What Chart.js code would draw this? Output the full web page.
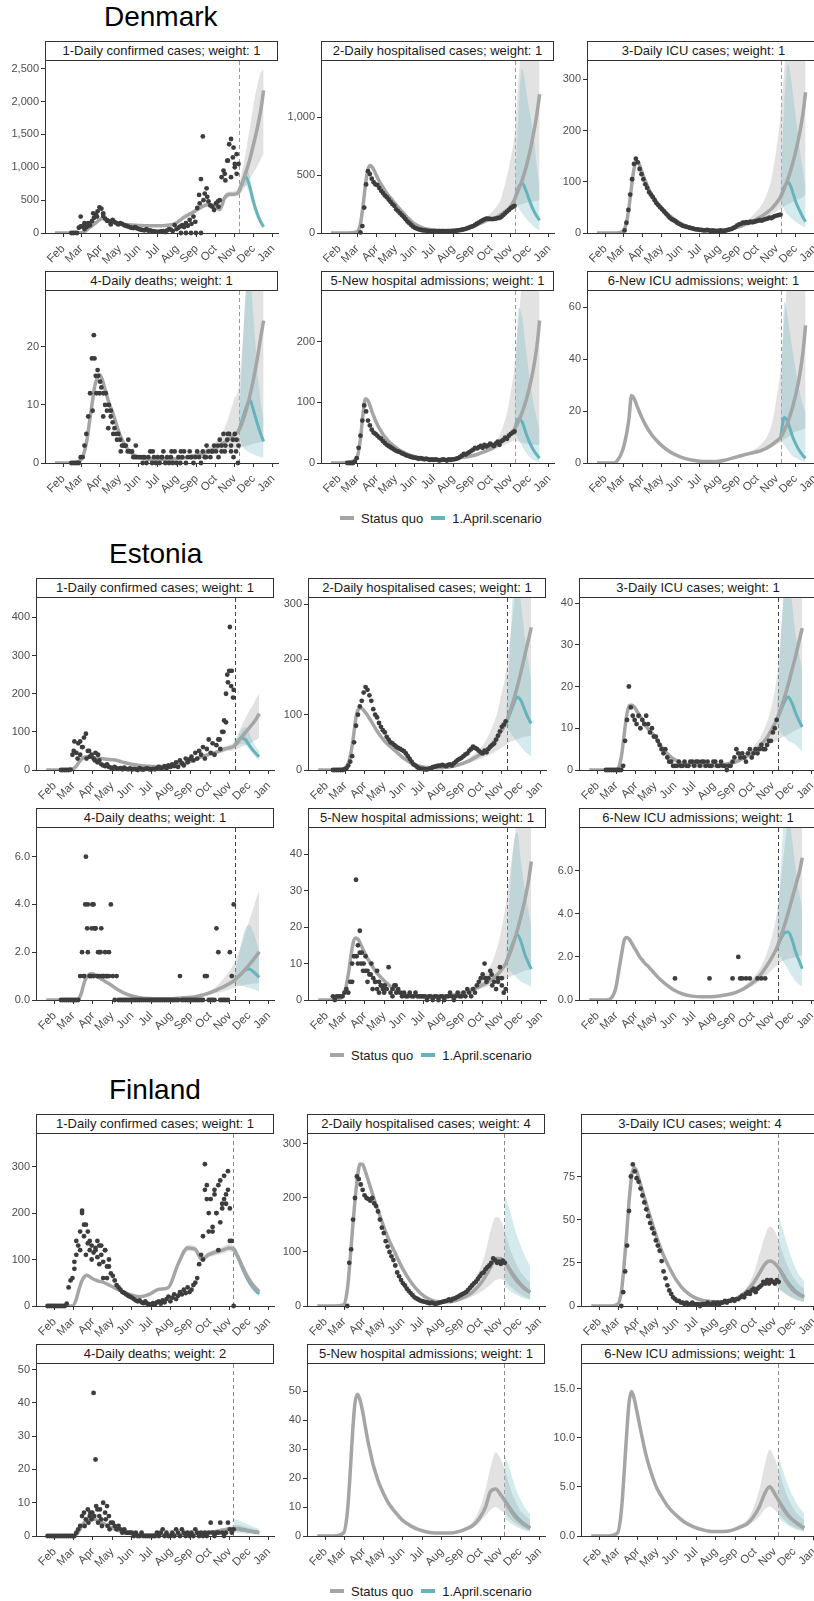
<!DOCTYPE html>
<html>
<head>
<meta charset="utf-8">
<script src="https://cdn.jsdelivr.net/npm/chart.js@4.4.1/dist/chart.umd.min.js"></script>
<style>
  body { margin: 0; width: 814px; height: 1601px; overflow: hidden; background: #fff; position: relative;
         font-family: 'Liberation Sans', Arial, sans-serif; }
  .country { position: absolute; font-size: 28px; line-height: 28px; color: #000; }
  .strip { position: absolute; box-sizing: border-box; height: 20px; border: 1px solid #333; background: #fff;
           font-size: 13px; line-height: 18px; text-align: center; color: #1a1a1a; white-space: nowrap; overflow: hidden; }
  .legend { position: absolute; display: flex; align-items: center; height: 16px; font-size: 13px; color: #1a1a1a; }
  .legend i { display: inline-block; width: 14px; height: 4px; margin-right: 7px; }
  .legend span { margin-right: 8px; }
  canvas { position: absolute; }
</style>
</head>
<body>
<script>
// x axis: day of year 2020
const monthDays = [32, 61, 92, 122, 153, 183, 214, 245, 275, 306, 336, 367];
const monthLabels = ['Feb', 'Mar', 'Apr', 'May', 'Jun', 'Jul', 'Aug', 'Sep', 'Oct', 'Nov', 'Dec', 'Jan'];

const lineDays = [19, 45, 60, 66, 70, 74, 78, 82, 86, 90, 94, 98, 102, 106, 110, 116, 122, 130, 140, 152,
  165, 180, 195, 210, 225, 240, 252, 262, 272, 282, 290, 298, 305, 312, 318, 324, 330, 336, 342, 348, 352];
const bandDays = [225, 240, 252, 262, 272, 282, 290, 298, 305, 312, 318, 324, 330, 336, 342, 348, 352];
const scenDays = [312, 318, 324, 330, 336, 342, 348, 352];
const obsDays = [21, 24, 27, 30, 33, 36, 39, 42, 45, 48, 51,
  54, 57, 60, 63, 66, 69, 72, 75, 78, 81, 84, 87, 90,
  93, 96, 99, 102, 105, 108, 111, 114, 117, 120,
  123, 126, 129, 132, 135, 138, 141, 144, 147, 150,
  153, 156, 159, 162, 165, 168, 171, 174, 177, 180,
  183, 186, 189, 192, 195, 198, 201, 204, 207, 210, 213,
  216, 219, 222, 225, 228, 231, 234, 237, 240, 243,
  246, 249, 252, 255, 258, 261, 264, 267, 270, 273,
  276, 279, 282, 285, 288, 291, 294, 297, 300, 303,
  306, 309, 312];

const panelNames = ['1-Daily confirmed cases', '2-Daily hospitalised cases', '3-Daily ICU cases',
  '4-Daily deaths', '5-New hospital admissions', '6-New ICU admissions'];

// ---------------- Denmark ----------------
const dkWeights = [1, 1, 1, 1, 1, 1];
const dkYMax = [2617, 1488, 336, 29.6, 283.6, 66.2];
const dkYTicks = [[0, 500, 1000, 1500, 2000, 2500], [0, 500, 1000], [0, 100, 200, 300], [0, 10, 20], [0, 100, 200], [0, 20, 40, 60]];

const dkCases = [null, null, null, null, null, null, null, null, 0, 0, 2,
  0, 80, 250, 100, 60, 90, 150, 120, 180, 230, 280, 330, 390,
  370, 300, 220, 190, 180, 160, 200, 170, 150, 130,
  150, 140, 120, 110, 100, 90, 80, 75, 90, 70,
  60, 50, 45, 40, 60, 35, 40, 30, 25, 20,
  15, 20, 25, 30, 15, 40, 60, 50, 30, 120, 60,
  80, 100, 120, 90, 150, 110, 200, 140, 250, 170,
  380, 580, 820, 1470, 600, 680, 480, 420, 400, 350,
  450, 480, 500, 850, 950, 800, 1100, 1350, 1430, 1150,
  1000, 1200, 1050];
const dkCasesExtra = [[60, 100], [66, 150], [72, 110], [80, 300], [86, 250], [96, 260], [102, 190], [108, 130],
  [250, 450], [256, 500], [262, 550], [280, 400], [290, 900], [295, 1100], [300, 850], [304, 1300], [306, 1050],
  [309, 900], [220, 0], [228, 0], [236, 0], [244, 0], [252, 0]];
const dkCasesMid = [0, 0, 5, 20, 50, 80, 110, 140, 170, 200,
  220, 215, 200, 185, 170, 155, 140, 130, 120, 115,
  110, 110, 115, 140, 240, 320, 390, 430, 420, 360,
  540, 590, 590, 620, 760, 930, 1120, 1350, 1600, 1900,
  2170];
const dkCasesLo = [220, 290, 360, 400, 390, 320, 490, 550, 555, 570, 640, 720, 820, 920, 1020, 1130, 1210];
const dkCasesHi = [260, 350, 420, 460, 450, 400, 590, 630, 640, 700, 950, 1250, 1600, 1950, 2250, 2450, 2490];
const dkCasesScMid = [620, 770, 850, 700, 470, 290, 160, 95];
const dkCasesScLo = [600, 690, 720, 560, 360, 210, 110, 65];
const dkCasesScHi = [640, 870, 1000, 850, 580, 370, 210, 130];

const dkHosp = [null, null, null, null, null, null, null, null, null, null, null,
  null, null, null, null, 5, 60, 220, 420, 535, 510, 470, 440, 420,
  415, 390, 365, 345, 325, 310, 290, 270, 250, 235,
  205, 190, 172, 155, 140, 120, 100, 85, 70, 55,
  45, 38, 32, 28, 24, 22, 20, 18, 17, 16,
  15, 15, 14, 15, 16, 15, 14, 15, 16, 17, 18,
  18, 20, 22, 25, 28, 32, 36, 42, 48, 55,
  60, 70, 80, 90, 100, 110, 118, 124, 125, 122,
  120, 122, 125, 128, 130, 140, 155, 170, 185, 200,
  215, 225, 235];
const dkHospMid = [0, 0, 10, 80, 230, 420, 550, 585, 560, 515,
  470, 430, 395, 360, 330, 290, 250, 200, 140, 80,
  45, 28, 22, 22, 28, 45, 70, 95, 115, 130,
  160, 190, 225, 290, 370, 455, 560, 690, 850, 1040,
  1200];
const dkHospLo = [25, 40, 62, 85, 103, 118, 140, 165, 190, 230, 240, 250, 260, 270, 275, 280, 285];
const dkHospHi = [32, 52, 85, 120, 160, 220, 290, 450, 620, 850, 1300, 1700, 2000, 2200, 2400, 2500, 2600];
const dkHospScMid = [290, 390, 432, 370, 280, 200, 140, 110];
const dkHospScLo = [280, 220, 170, 130, 90, 60, 35, 25];
const dkHospScHi = [300, 1000, 1420, 1250, 1050, 860, 560, 400];

const dkIcu = [null, null, null, null, null, null, null, null, null, null, null,
  null, null, null, 5, 20, 45, 75, 105, 135, 145, 138, 125, 115,
  105, 95, 88, 80, 75, 70, 64, 58, 54, 50,
  46, 42, 38, 34, 30, 27, 25, 23, 20, 18,
  16, 14, 13, 12, 11, 10, 9, 8, 7, 7,
  6, 6, 5, 5, 6, 5, 4, 5, 4, 4, 4,
  5, 4, 4, 5, 6, 7, 8, 10, 12, 15,
  17, 18, 20, 20, 21, 20, 22, 21, 22, 23,
  24, 25, 24, 26, 27, 28, 30, 29, 31, 33,
  34, 35, 36];
const dkIcuMid = [0, 0, 3, 20, 50, 90, 125, 140, 135, 122,
  108, 96, 85, 76, 68, 58, 49, 39, 29, 19,
  12, 7, 5, 4.5, 6, 10, 15, 20, 26, 33,
  40, 48, 58, 70, 87, 106, 130, 158, 192, 235,
  275];
const dkIcuLo = [5, 8, 12, 16, 21, 26, 31, 36, 42, 47, 52, 56, 60, 63, 67, 71, 75];
const dkIcuHi = [7, 12, 20, 28, 40, 55, 75, 110, 160, 230, 320, 400, 460, 500, 540, 570, 600];
const dkIcuScMid = [70, 90, 100, 85, 62, 45, 30, 22];
const dkIcuScLo = [65, 45, 35, 28, 22, 17, 12, 10];
const dkIcuScHi = [75, 250, 330, 290, 230, 170, 120, 90];

const dkDeaths = [null, null, null, null, null, null, null, null, 0, 0, 0,
  0, 0, 1, 1, 3, 5, 8, 12, 18, 22, 15, 16, 12,
  13, 12, 10, 9, 10, 8, 7, 6, 5, 5,
  4, 3, 3, 3, 2, 2, 2, 1, 1, 1,
  1, 1, 0, 1, 0, 1, 2, 0, 1, 0,
  1, 0, 1, 2, 0, 1, 0, 1, 0, 2, 0,
  1, 0, 1, 2, 0, 1, 2, 1, 0, 1,
  2, 1, 0, 2, 1, 3, 2, 1, 2, 3,
  2, 3, 4, 2, 5, 3, 4, 5, 3, 4,
  5, 4, 3];
const dkDeathsExtra = [[79, 9], [82, 18], [85, 12], [88, 15], [91, 14], [96, 8], [100, 12], [104, 6], [108, 9],
  [112, 5], [118, 4], [124, 2], [130, 3], [136, 4], [142, 2], [148, 3], [160, 1], [175, 2], [190, 1], [205, 2],
  [220, 2], [235, 1], [260, 1], [270, 2], [280, 1], [285, 3], [290, 2], [295, 5], [300, 2], [304, 1], [308, 2], [311, 0]];
const dkDeathsMid = [0, 0, 0.5, 2, 4, 7, 10, 13, 14.5, 15.2,
  14.5, 13, 11.5, 10, 9, 7, 5, 3.2, 1.8, 1,
  0.7, 0.6, 0.6, 0.7, 0.9, 1.2, 1.5, 1.9, 2.4, 3,
  3.6, 4.2, 4.8, 5.5, 7, 9, 11.5, 14.5, 18, 22,
  24.5];
const dkDeathsLo = [0.7, 0.9, 1.1, 1.4, 1.7, 2, 2.2, 2.4, 2.5, 2.5, 2.7, 2.9, 3.1, 3.3, 3.5, 3.6, 3.7];
const dkDeathsHi = [1.1, 1.5, 2, 2.6, 3.3, 4.5, 6, 8.5, 11, 13, 20, 30, 40, 50, 60, 70, 75];
const dkDeathsScMid = [5.5, 7.5, 9.5, 10.9, 9, 6.8, 4.8, 3.7];
const dkDeathsScLo = [5, 3, 2.2, 1.8, 1.5, 1.2, 1, 0.9];
const dkDeathsScHi = [6, 18, 30, 32, 25, 16, 10, 7.5];

const dkAdm = [null, null, null, null, null, null, null, null, 0, 0, 0,
  0, 2, 8, 25, 45, 70, 95, 85, 70, 62, 55, 50, 48,
  45, 42, 40, 36, 33, 30, 28, 26, 24, 22,
  20, 19, 18, 16, 15, 13, 12, 11, 10, 9,
  9, 8, 7, 8, 7, 6, 7, 6, 5, 6,
  5, 6, 5, 4, 5, 6, 5, 4, 6, 5, 6,
  6, 7, 8, 10, 12, 15, 14, 16, 18, 20,
  22, 25, 24, 26, 28, 25, 30, 27, 29, 32,
  30, 28, 32, 35, 30, 36, 38, 42, 40, 45,
  48, 50, 52];
const dkAdmMid = [0, 1, 8, 40, 80, 106, 103, 92, 80, 70,
  61, 54, 47, 42, 37, 31, 26, 20, 15, 11,
  8, 6, 5, 6, 8.5, 11, 14, 18, 22, 28,
  34, 40, 47, 56, 68, 83, 102, 125, 155, 195,
  235];
const dkAdmLo = [7, 9.5, 12, 15.5, 19, 23, 27, 31, 34, 37, 35, 33, 32, 31, 30, 30, 30];
const dkAdmHi = [10, 13, 17, 21, 27, 36, 50, 75, 110, 160, 230, 300, 350, 400, 450, 500, 550];
const dkAdmScMid = [56, 73, 68, 50, 34, 22, 13, 8];
const dkAdmScLo = [52, 40, 28, 18, 10, 5, 2, 1];
const dkAdmScHi = [60, 256, 240, 190, 140, 100, 70, 55];

const dkIcuAdmMid = [0, 0, 5, 11, 17, 26, 25, 22.5, 20, 17.8,
  15.8, 14, 12.4, 11, 9.8, 8.2, 6.8, 5.2, 3.7, 2.4,
  1.4, 0.8, 0.6, 0.6, 1.2, 2.2, 3, 3.6, 4.2, 4.9,
  5.8, 7, 8.3, 9.8, 12.5, 16, 20.5, 26, 33, 43,
  53];
const dkIcuAdmLo = [1, 1.8, 2.5, 3, 3.6, 4.2, 5, 6, 7, 8, 9, 10, 11, 12, 12.5, 13, 13.5];
const dkIcuAdmHi = [1.4, 2.6, 3.6, 4.4, 5.5, 7.5, 10, 15, 24, 36, 55, 75, 90, 100, 110, 120, 130];
const dkIcuAdmScMid = [9.8, 17.5, 15.5, 11, 7.5, 4.8, 2.8, 1.8];
const dkIcuAdmScLo = [9, 7, 5, 3, 2, 1.2, 0.7, 0.5];
const dkIcuAdmScHi = [11, 62, 55, 45, 36, 28, 22, 19];

// ---------------- Estonia ----------------
const eeWeights = [1, 1, 1, 1, 1, 1];
const eeYMax = [451, 311, 41.2, 7.2, 47.2, 7.98];
const eeYTicks = [[0, 100, 200, 300, 400], [0, 100, 200, 300], [0, 10, 20, 30, 40], [0, 2, 4, 6], [0, 10, 20, 30, 40], [0, 2, 4, 6]];

const eeCases = [null, null, null, null, null, null, null, 0, 0, 0, 0,
  0, 1, 40, 75, 45, 70, 40, 60, 85, 95, 50, 35, 40,
  30, 45, 20, 25, 15, 12, 10, 15, 8, 6,
  5, 8, 4, 3, 5, 2, 6, 3, 2, 4,
  1, 3, 2, 0, 5, 2, 1, 3, 4, 2,
  1, 3, 2, 5, 8, 3, 6, 10, 4, 12, 8,
  15, 10, 20, 8, 25, 18, 12, 30, 20, 28,
  35, 25, 45, 30, 50, 40, 60, 30, 55, 80,
  45, 70, 40, 65, 80, 55, 100, 130, 125, 230,
  375, 260, 210];
const eeCasesExtra = [[62, 50], [68, 30], [72, 75], [76, 60], [82, 30], [86, 50], [95, 25], [100, 40],
  [290, 80], [296, 100], [300, 200], [302, 250], [305, 260], [308, 220], [311, 190]];
const eeCasesMid = [0, 0, 2, 10, 20, 28, 33, 35, 35, 33,
  32, 31, 30, 30, 29, 28, 27, 25, 20, 15,
  12, 10, 9, 10, 13, 20, 28, 35, 40, 45,
  50, 55, 58, 62, 72, 85, 98, 110, 122, 136,
  148];
const eeCasesLo = [11, 17, 24, 30, 35, 40, 44, 48, 50, 52, 56, 60, 64, 68, 74, 80, 85];
const eeCasesHi = [15, 23, 32, 40, 45, 50, 56, 62, 66, 72, 90, 115, 135, 155, 170, 190, 200];
const eeCasesScMid = [62, 75, 83, 80, 66, 52, 41, 35];
const eeCasesScLo = [59, 64, 68, 66, 54, 41, 31, 25];
const eeCasesScHi = [65, 88, 105, 112, 98, 76, 58, 50];

const eeHosp = [null, null, null, null, null, null, null, 0, 0, 0, 0,
  0, 0, 1, 3, 8, 15, 25, 50, 80, 100, 115, 125, 140,
  150, 145, 135, 125, 110, 100, 95, 85, 78, 72,
  68, 60, 55, 50, 48, 45, 42, 40, 38, 36,
  34, 30, 25, 20, 15, 10, 8, 5, 3, 2,
  2, 1, 1, 2, 3, 5, 6, 7, 8, 8, 9,
  8, 7, 9, 10, 8, 12, 15, 18, 20, 22,
  25, 28, 30, 35, 38, 42, 40, 38, 35, 32,
  30, 35, 32, 38, 42, 45, 48, 55, 62, 70,
  78, 82, 88];
const eeHospMid = [0, 0, 3, 12, 30, 60, 95, 110, 112, 108,
  102, 95, 88, 80, 72, 62, 53, 44, 34, 22,
  12, 6, 4, 4, 6, 10, 15, 21, 28, 36,
  46, 58, 70, 84, 103, 125, 150, 178, 208, 238,
  258];
const eeHospLo = [5, 8, 12, 16, 20, 25, 30, 35, 40, 45, 50, 53, 56, 58, 60, 61, 62];
const eeHospHi = [8, 13, 20, 28, 38, 55, 75, 100, 135, 175, 230, 290, 360, 430, 500, 560, 600];
const eeHospScMid = [84, 100, 118, 132, 125, 108, 92, 84];
const eeHospScLo = [80, 70, 60, 50, 42, 34, 28, 24];
const eeHospScHi = [90, 200, 330, 340, 300, 240, 190, 160];

const eeIcu = [null, null, null, null, null, null, null, null, 0, 0, 0,
  0, 0, 0, 0, 0, 0, 1, 7, 12, 20, 15, 13, 12,
  11, 13, 10, 12, 11, 13, 11, 9, 10, 8,
  8, 7, 6, 5, 4, 5, 3, 2, 2, 1,
  1, 1, 2, 1, 1, 2, 1, 1, 2, 2,
  1, 2, 2, 1, 2, 2, 1, 2, 1, 1, 2,
  2, 1, 1, 2, 1, 1, 0, 1, 1, 2,
  3, 5, 4, 3, 4, 3, 2, 4, 5, 3,
  4, 5, 4, 5, 6, 5, 5, 6, 7, 7,
  9, 10, 12];
const eeIcuMid = [0, 0, 0, 1, 4, 9, 13.5, 15.5, 15.5, 15,
  14, 13, 12, 11, 10, 9, 8, 6, 4, 2.5,
  1.6, 1.2, 1, 1, 1.2, 1.6, 2.2, 3, 4, 5.2,
  6.5, 8, 10, 12, 14.5, 17.3, 20.5, 24, 27.5, 31.5,
  34];
const eeIcuLo = [1, 1.4, 1.9, 2.5, 3.3, 4.2, 5, 5.8, 6.5, 7, 7.6, 8, 8.5, 9, 9.5, 10, 10.5];
const eeIcuHi = [1.5, 2, 2.8, 3.8, 5, 6.8, 9, 12, 16, 22, 32, 44, 55, 65, 75, 85, 90];
const eeIcuScMid = [12, 14, 16.3, 17.5, 16, 13.5, 11.5, 10.3];
const eeIcuScLo = [11, 9, 8, 7, 6.5, 6, 5, 4.5];
const eeIcuScHi = [13, 30, 44, 46, 40, 32, 27, 24];

const eeDeaths = [null, null, null, null, null, null, null, 0, 0, 0, 0,
  0, 0, 0, 0, 0, 0, 1, 2, 1, 6, 4, 1, 3,
  4, 3, 1, 2, 3, 1, 2, 1, 2, 4,
  1, 0, 1, 0, 0, 0, 0, 0, 0, 0,
  0, 0, 0, 0, 0, 0, 0, 0, 0, 0,
  0, 0, 0, 0, 0, 0, 0, 0, 0, 0, 0,
  0, 0, 0, 0, 1, 0, 0, 0, 0, 0,
  0, 0, 0, 0, 0, 0, 0, 1, 1, 0,
  0, 0, 0, 3, 2, 0, 0, 0, 0, 0,
  2, 1, 4];
const eeDeathsExtra = [[78, 1], [84, 2], [87, 1], [90, 1], [93, 1], [96, 3], [99, 1], [102, 1], [105, 1],
  [108, 1], [111, 1], [114, 1], [117, 1], [80, 4], [83, 3], [91, 4], [94, 3], [100, 2], [104, 2]];
const eeDeathsMid = [0, 0, 0, 0, 0.05, 0.3, 0.7, 0.95, 1.07, 1.1,
  1.07, 1.0, 0.93, 0.86, 0.8, 0.7, 0.6, 0.45, 0.3, 0.18,
  0.1, 0.06, 0.05, 0.05, 0.07, 0.1, 0.14, 0.2, 0.28, 0.38,
  0.48, 0.58, 0.68, 0.8, 0.95, 1.1, 1.28, 1.47, 1.66, 1.87,
  2.02];
const eeDeathsLo = [0.05, 0.08, 0.11, 0.15, 0.2, 0.26, 0.32, 0.38, 0.44, 0.5, 0.55, 0.6, 0.63, 0.66, 0.68, 0.7, 0.72];
const eeDeathsHi = [0.1, 0.13, 0.18, 0.26, 0.36, 0.5, 0.7, 0.95, 1.2, 1.5, 1.9, 2.3, 2.8, 3.3, 3.8, 4.3, 4.6];
const eeDeathsScMid = [0.8, 0.95, 1.1, 1.25, 1.3, 1.2, 1.05, 0.95];
const eeDeathsScLo = [0.7, 0.65, 0.6, 0.55, 0.5, 0.45, 0.4, 0.35];
const eeDeathsScHi = [0.9, 1.6, 2.4, 3.0, 3.15, 2.9, 2.4, 2.0];

const eeAdm = [null, null, null, null, null, null, null, 1, 0, 1, 1,
  1, 1, 2, 3, 2, 5, 10, 12, 33, 15, 19, 13, 10,
  12, 8, 7, 10, 6, 5, 8, 5, 4, 3,
  4, 3, 9, 2, 3, 4, 2, 3, 2, 1,
  2, 1, 1, 2, 1, 1, 2, 1, 1, 1,
  1, 1, 0, 1, 1, 0, 1, 1, 0, 1, 1,
  0, 1, 1, 2, 1, 0, 1, 2, 1, 1,
  2, 1, 3, 2, 1, 3, 2, 4, 5, 6,
  7, 10, 5, 6, 8, 4, 5, 3, 6, 9,
  4, 2, 3];
const eeAdmExtra = [[72, 5], [79, 12], [81, 10], [84, 13], [86, 10], [89, 8], [93, 8], [96, 5], [101, 7],
  [104, 3], [108, 5], [111, 3], [114, 2], [117, 4], [122, 2], [135, 1], [140, 4], [280, 6], [290, 7], [300, 5], [306, 6]];
const eeAdmMid = [0, 0, 2, 7, 12, 16, 17, 16.5, 15, 13.5,
  12, 10.8, 9.6, 8.6, 7.6, 6.4, 5.3, 4, 2.8, 1.8,
  1.2, 0.9, 0.8, 0.9, 1.2, 1.7, 2.3, 3, 3.8, 4.7,
  5.6, 6.8, 8.2, 10, 12.5, 15.5, 19, 23, 27.5, 33,
  38];
const eeAdmLo = [1, 1.4, 1.9, 2.4, 3, 3.6, 4.2, 4.8, 5.3, 5.8, 6.3, 6.8, 7.2, 7.6, 8, 8.3, 8.5];
const eeAdmHi = [1.5, 2.2, 3, 4, 5.5, 7.5, 10, 14, 19, 26, 34, 42, 50, 58, 66, 72, 76];
const eeAdmScMid = [10, 13, 16, 18, 16, 12.5, 10, 8.5];
const eeAdmScLo = [9, 8, 7, 6, 5, 4.5, 4, 3.5];
const eeAdmScHi = [11, 28, 42, 46, 38, 30, 24, 20];

const eeIcuAdm = [null, null, null, null, null, null, null, null, null, null, null,
  null, null, null, null, null, null, null, null, null, null, null, null, null,
  null, null, null, null, null, null, null, null, null, null,
  null, null, null, null, null, null, null, null, null, null,
  1, null, null, null, null, null, null, null, null, null,
  null, null, null, null, null, null, null, null, 1, null, null,
  null, null, null, null, null, null, null, null, null, 1,
  null, null, 2, 1, 1, null, 1, null, 1, null,
  null, null, 1, null, 1, null, 1, null, null, null,
  null, null, null];
const eeIcuAdmMid = [0, 0, 0.5, 1.5, 2.2, 2.8, 2.9, 2.8, 2.6, 2.4,
  2.2, 2.0, 1.85, 1.7, 1.6, 1.4, 1.2, 0.95, 0.7, 0.45,
  0.28, 0.18, 0.15, 0.15, 0.2, 0.28, 0.4, 0.55, 0.75, 1.0,
  1.3, 1.65, 2.0, 2.4, 2.9, 3.45, 4.05, 4.7, 5.35, 6.0,
  6.6];
const eeIcuAdmLo = [0.17, 0.24, 0.33, 0.45, 0.6, 0.8, 1.0, 1.2, 1.4, 1.6, 1.75, 1.85, 1.9, 1.95, 2.0, 2.05, 2.1];
const eeIcuAdmHi = [0.25, 0.34, 0.48, 0.68, 0.95, 1.3, 1.7, 2.3, 3.0, 4.0, 5.4, 7, 8.5, 9.5, 10.5, 11, 11.5];
const eeIcuAdmScMid = [2.4, 2.8, 3.1, 3.15, 2.8, 2.2, 1.75, 1.45];
const eeIcuAdmScLo = [2.3, 2.0, 1.7, 1.4, 1.1, 0.85, 0.7, 0.6];
const eeIcuAdmScHi = [2.5, 6, 8.5, 8.8, 7.5, 6, 4.8, 4.2];

// ---------------- Finland ----------------
const fiWeights = [1, 4, 4, 2, 1, 1];
const fiYMax = [370, 318.5, 99.6, 51.7, 59.5, 17.5];
const fiYTicks = [[0, 100, 200, 300], [0, 100, 200, 300], [0, 25, 50, 75], [0, 10, 20, 30, 40, 50], [0, 10, 20, 30, 40, 50], [0, 5, 10, 15]];

const fiCases = [0, 0, 0, 0, 0, 0, 0, 0, 0, 0, 5,
  40, 55, 60, 95, 110, 130, 160, 205, 150, 175, 135, 120, 130,
  115, 125, 105, 130, 110, 95, 120, 85, 100, 70,
  65, 55, 45, 40, 35, 30, 28, 25, 22, 20,
  18, 15, 12, 10, 12, 8, 6, 10, 5, 4,
  3, 6, 4, 8, 10, 5, 12, 8, 15, 20, 10,
  18, 25, 15, 22, 30, 25, 35, 28, 40, 30,
  35, 45, 50, 60, 90, 110, 150, 305, 260, 200,
  230, 170, 250, 200, 120, 270, 220, 280, 240, 290,
  210, 140, 0];
const fiCasesExtra = [[63, 80], [66, 140], [72, 120], [75, 200], [78, 175], [81, 110], [84, 160], [87, 140],
  [90, 100], [96, 120], [99, 140], [102, 90], [105, 130], [108, 60], [111, 120], [114, 60], [117, 85],
  [264, 100], [267, 250], [270, 230], [273, 160], [279, 160], [282, 240], [285, 200], [288, 260], [291, 180],
  [294, 210], [297, 230], [300, 220], [303, 250], [306, 140]];
const fiCasesMid = [0, 0, 0, 15, 35, 52, 62, 66, 64, 60,
  57, 55, 53, 52, 50, 46, 42, 36, 30, 24,
  20, 25, 36, 40, 90, 125, 122, 100, 110, 115,
  118, 122, 125, 122, 108, 90, 72, 57, 45, 36,
  31];
const fiCasesLo = [85, 118, 115, 94, 104, 108, 111, 114, 117, 114, 98, 80, 63, 49, 38, 30, 25];
const fiCasesHi = [95, 132, 129, 106, 116, 122, 125, 130, 133, 130, 118, 100, 82, 66, 53, 43, 37];
const fiCasesScMid = [122, 106, 87, 68, 52, 40, 31, 26];
const fiCasesScLo = [114, 96, 77, 59, 44, 33, 25, 20];
const fiCasesScHi = [130, 116, 97, 78, 61, 48, 38, 33];

const fiHosp = [null, null, null, null, null, null, null, null, null, null, null,
  null, null, null, null, 0, 80, 105, 160, 200, 240, 235, 225, 215,
  205, 200, 198, 195, 200, 190, 185, 175, 160, 145,
  135, 120, 110, 100, 92, 85, 75, 62, 55, 48,
  42, 38, 32, 28, 24, 20, 16, 14, 12, 10,
  9, 8, 7, 6, 5, 6, 5, 4, 5, 6, 7,
  8, 9, 10, 12, 10, 13, 14, 16, 18, 20,
  22, 24, 26, 30, 34, 38, 42, 45, 50, 55,
  60, 62, 68, 72, 75, 80, 88, 85, 80, 82,
  78, 84, 80];
const fiHospMid = [0, 0, 2, 30, 80, 140, 195, 240, 263, 262,
  250, 235, 220, 205, 190, 170, 150, 125, 100, 70,
  45, 24, 12, 8, 8, 12, 18, 26, 38, 55,
  72, 88, 88, 82, 70, 58, 48, 40, 33, 28,
  25];
const fiHospLo = [6, 9, 13, 18, 24, 32, 40, 48, 50, 47, 40, 33, 27, 22, 18, 15, 13];
const fiHospHi = [11, 16, 25, 40, 65, 100, 140, 165, 160, 140, 115, 95, 78, 65, 55, 47, 42];
const fiHospScMid = [82, 72, 61, 51, 42, 35, 29, 26];
const fiHospScLo = [35, 30, 25, 21, 17, 14, 12, 11];
const fiHospScHi = [205, 185, 160, 135, 115, 97, 82, 73];

const fiIcu = [null, null, null, null, null, null, null, null, null, null, null,
  null, null, null, null, 0, 8, 20, 35, 55, 75, 82, 78, 74,
  72, 68, 64, 60, 56, 52, 48, 45, 42, 38,
  35, 32, 26, 20, 16, 12, 9, 7, 5, 4,
  3, 3, 2, 2, 1, 2, 1, 1, 2, 1,
  1, 1, 0, 1, 1, 1, 2, 1, 1, 2, 1,
  2, 1, 2, 2, 3, 2, 3, 3, 4, 3,
  4, 4, 5, 6, 5, 7, 8, 7, 9, 10,
  8, 10, 11, 12, 14, 13, 15, 13, 15, 14,
  13, 15, 14];
const fiIcuMid = [0, 0, 1, 8, 22, 40, 60, 75, 80, 78,
  73, 68, 63, 58, 53, 46, 39, 31, 23, 15,
  9, 5, 3, 2.5, 2.5, 3.5, 5.5, 8.5, 13, 19,
  24, 26, 25, 22, 18, 14, 11, 8.5, 7, 5.8,
  5.2];
const fiIcuLo = [2, 3, 4.5, 7, 10, 13, 15, 14, 12, 10, 8, 6.5, 5, 4, 3.2, 2.7, 2.4];
const fiIcuHi = [3, 4.5, 7, 11, 18, 30, 40, 46, 44, 38, 31, 25, 20, 16, 13, 11, 10];
const fiIcuScMid = [22, 19, 15, 12, 9.5, 7.5, 6.2, 5.5];
const fiIcuScLo = [10, 8.5, 7, 5.5, 4.3, 3.4, 2.8, 2.4];
const fiIcuScHi = [52, 45, 37, 30, 24, 19, 16, 14];

const fiDeaths = [0, 0, 0, 0, 0, 0, 0, 0, 0, 0, 0,
  0, 0, 0, 0, 1, 2, 3, 6, 7, 5, 8, 6, 5,
  43, 23, 8, 6, 5, 10, 7, 9, 6, 4,
  4, 3, 2, 3, 2, 1, 2, 1, 1, 1,
  1, 0, 1, 0, 0, 1, 0, 0, 0, 0,
  0, 0, 0, 1, 0, 1, 2, 0, 1, 0, 0,
  1, 0, 2, 1, 0, 2, 1, 0, 1, 0,
  1, 0, 2, 1, 0, 1, 0, 1, 0, 1,
  4, 1, 0, 1, 1, 4, 1, 0, 1, 4,
  2, 1, 2];
const fiDeathsExtra = [[79, 3], [85, 4], [88, 7], [91, 7], [94, 6], [97, 9], [100, 4], [103, 8], [106, 3],
  [112, 5], [115, 3], [118, 2]];
const fiDeathsMid = [0, 0, 0, 0.5, 1.5, 2.8, 4, 4.8, 5.2, 5.3,
  5.1, 4.8, 4.4, 4, 3.6, 3, 2.4, 1.8, 1.2, 0.7,
  0.4, 0.3, 0.3, 0.3, 0.35, 0.45, 0.6, 0.8, 1.0, 1.3,
  1.6, 1.9, 2.1, 2.2, 2.1, 1.9, 1.7, 1.5, 1.3, 1.1,
  1.0];
const fiDeathsLo = [0.25, 0.35, 0.5, 0.65, 0.8, 1.0, 1.2, 1.4, 1.5, 1.5, 1.4, 1.25, 1.1, 0.95, 0.8, 0.7, 0.6];
const fiDeathsHi = [0.45, 0.6, 0.75, 1.0, 1.3, 1.7, 2.1, 2.5, 2.8, 3.2, 3.3, 3.1, 2.8, 2.5, 2.2, 1.9, 1.7];
const fiDeathsScMid = [2.2, 2.3, 2.1, 1.9, 1.6, 1.4, 1.2, 1.0];
const fiDeathsScLo = [1.0, 0.9, 0.8, 0.7, 0.6, 0.5, 0.4, 0.35];
const fiDeathsScHi = [5.2, 4.8, 4.3, 3.8, 3.3, 2.8, 2.4, 2.1];

const fiAdmMid = [0, 0, 1, 8, 20, 35, 46, 49, 47, 43,
  38, 33, 29, 25, 22, 18, 15, 11.5, 8.5, 5.5,
  3.5, 2, 1.2, 1, 1, 1.5, 2.5, 3.6, 6, 10,
  15.5, 16.3, 14.5, 12.3, 10, 8, 6.3, 5, 4, 3.2,
  2.7];
const fiAdmLo = [0.8, 1.2, 2, 2.8, 4.5, 7, 9, 10, 9, 8, 6.5, 5.2, 4.2, 3.3, 2.6, 2.1, 1.8];
const fiAdmHi = [1.3, 2, 3.2, 5, 9, 16, 24, 29, 27, 23, 18.5, 14.5, 11.5, 9, 7.5, 6.3, 5.6];
const fiAdmScMid = [12.3, 10.5, 8.5, 6.8, 5.4, 4.3, 3.4, 2.9];
const fiAdmScLo = [6, 5, 4, 3.2, 2.6, 2, 1.6, 1.4];
const fiAdmScHi = [28, 24.5, 20, 16, 13, 10.5, 8.5, 7.5];

const fiIcuAdmMid = [0, 0, 0.3, 2.5, 6, 10, 13.5, 14.7, 14, 12.8,
  11.5, 10.2, 9, 7.9, 7, 5.8, 4.8, 3.9, 2.9, 2.1,
  1.4, 0.9, 0.6, 0.45, 0.45, 0.6, 0.9, 1.2, 1.9, 3,
  4.3, 5, 4.4, 3.6, 2.9, 2.3, 1.85, 1.5, 1.2, 0.95,
  0.8];
const fiIcuAdmLo = [0.35, 0.5, 0.75, 1.0, 1.4, 2, 2.7, 3, 2.7, 2.2, 1.8, 1.4, 1.1, 0.9, 0.7, 0.55, 0.45];
const fiIcuAdmHi = [0.6, 0.8, 1.2, 1.6, 2.8, 4.8, 7.2, 8.8, 8, 6.8, 5.4, 4.3, 3.4, 2.7, 2.2, 1.8, 1.6];
const fiIcuAdmScMid = [3.6, 3.0, 2.4, 1.9, 1.55, 1.25, 1.0, 0.85];
const fiIcuAdmScLo = [1.8, 1.5, 1.2, 0.95, 0.75, 0.6, 0.5, 0.45];
const fiIcuAdmScHi = [8, 6.8, 5.6, 4.6, 3.8, 3.1, 2.6, 2.3];

// ---------------- layout ----------------
const countries = [
  { name: 'Denmark', titleLeft: 104, titleTop: 3, tops: [61, 291], lefts: [45, 321, 587], width: 233,
    cut: 312, dash: '#9a9a9a', legendLeft: 340, legendTop: 510, weights: dkWeights, yMax: dkYMax, yTicks: dkYTicks,
    panels: [
      { obs: dkCases, extra: dkCasesExtra, mid: dkCasesMid, lo: dkCasesLo, hi: dkCasesHi, sMid: dkCasesScMid, sLo: dkCasesScLo, sHi: dkCasesScHi },
      { obs: dkHosp, mid: dkHospMid, lo: dkHospLo, hi: dkHospHi, sMid: dkHospScMid, sLo: dkHospScLo, sHi: dkHospScHi },
      { obs: dkIcu, mid: dkIcuMid, lo: dkIcuLo, hi: dkIcuHi, sMid: dkIcuScMid, sLo: dkIcuScLo, sHi: dkIcuScHi },
      { obs: dkDeaths, extra: dkDeathsExtra, mid: dkDeathsMid, lo: dkDeathsLo, hi: dkDeathsHi, sMid: dkDeathsScMid, sLo: dkDeathsScLo, sHi: dkDeathsScHi },
      { obs: dkAdm, mid: dkAdmMid, lo: dkAdmLo, hi: dkAdmHi, sMid: dkAdmScMid, sLo: dkAdmScLo, sHi: dkAdmScHi },
      { obs: null, mid: dkIcuAdmMid, lo: dkIcuAdmLo, hi: dkIcuAdmHi, sMid: dkIcuAdmScMid, sLo: dkIcuAdmScLo, sHi: dkIcuAdmScHi }
    ] },
  { name: 'Estonia', titleLeft: 109, titleTop: 540, tops: [598, 828], lefts: [36, 308, 579], width: 238,
    cut: 314, dash: '#444', legendLeft: 330, legendTop: 1047, weights: eeWeights, yMax: eeYMax, yTicks: eeYTicks,
    panels: [
      { obs: eeCases, extra: eeCasesExtra, mid: eeCasesMid, lo: eeCasesLo, hi: eeCasesHi, sMid: eeCasesScMid, sLo: eeCasesScLo, sHi: eeCasesScHi },
      { obs: eeHosp, mid: eeHospMid, lo: eeHospLo, hi: eeHospHi, sMid: eeHospScMid, sLo: eeHospScLo, sHi: eeHospScHi },
      { obs: eeIcu, mid: eeIcuMid, lo: eeIcuLo, hi: eeIcuHi, sMid: eeIcuScMid, sLo: eeIcuScLo, sHi: eeIcuScHi },
      { obs: eeDeaths, extra: eeDeathsExtra, mid: eeDeathsMid, lo: eeDeathsLo, hi: eeDeathsHi, sMid: eeDeathsScMid, sLo: eeDeathsScLo, sHi: eeDeathsScHi, dec: 1 },
      { obs: eeAdm, extra: eeAdmExtra, mid: eeAdmMid, lo: eeAdmLo, hi: eeAdmHi, sMid: eeAdmScMid, sLo: eeAdmScLo, sHi: eeAdmScHi },
      { obs: eeIcuAdm, mid: eeIcuAdmMid, lo: eeIcuAdmLo, hi: eeIcuAdmHi, sMid: eeIcuAdmScMid, sLo: eeIcuAdmScLo, sHi: eeIcuAdmScHi, dec: 1 }
    ] },
  { name: 'Finland', titleLeft: 109, titleTop: 1076, tops: [1134, 1364], lefts: [36, 307, 581], width: 238,
    cut: 311, dash: '#8a8a8a', legendLeft: 330, legendTop: 1583, weights: fiWeights, yMax: fiYMax, yTicks: fiYTicks,
    panels: [
      { obs: fiCases, extra: fiCasesExtra, mid: fiCasesMid, lo: fiCasesLo, hi: fiCasesHi, sMid: fiCasesScMid, sLo: fiCasesScLo, sHi: fiCasesScHi },
      { obs: fiHosp, mid: fiHospMid, lo: fiHospLo, hi: fiHospHi, sMid: fiHospScMid, sLo: fiHospScLo, sHi: fiHospScHi },
      { obs: fiIcu, mid: fiIcuMid, lo: fiIcuLo, hi: fiIcuHi, sMid: fiIcuScMid, sLo: fiIcuScLo, sHi: fiIcuScHi },
      { obs: fiDeaths, extra: fiDeathsExtra, mid: fiDeathsMid, lo: fiDeathsLo, hi: fiDeathsHi, sMid: fiDeathsScMid, sLo: fiDeathsScLo, sHi: fiDeathsScHi },
      { obs: null, mid: fiAdmMid, lo: fiAdmLo, hi: fiAdmHi, sMid: fiAdmScMid, sLo: fiAdmScLo, sHi: fiAdmScHi },
      { obs: null, mid: fiIcuAdmMid, lo: fiIcuAdmLo, hi: fiIcuAdmHi, sMid: fiIcuAdmScMid, sLo: fiIcuAdmScLo, sHi: fiIcuAdmScHi, dec: 1 }
    ] }
];

Chart.defaults.font.family = "'Liberation Sans', Arial, sans-serif";

const PLOT_H = 172;
const grey = '#a5a5a5', teal = '#66b3bd';

function pts(days, vals) {
  const out = [];
  days.forEach((d, i) => { if (vals[i] !== null && vals[i] !== undefined) out.push({ x: d, y: vals[i] }); });
  return out;
}

function addDiv(cls, style, html) {
  const el = document.createElement('div');
  el.className = cls;
  Object.assign(el.style, style);
  el.innerHTML = html;
  document.body.appendChild(el);
  return el;
}

countries.forEach(c => {
  addDiv('country', { left: c.titleLeft + 'px', top: c.titleTop + 'px' }, c.name);
  addDiv('legend', { left: c.legendLeft + 'px', top: c.legendTop + 'px' },
    '<i style="background:' + grey + '"></i><span>Status quo</span><i style="background:' + teal + '"></i><span>1.April.scenario</span>');

  c.panels.forEach((p, k) => {
    const plotLeft = c.lefts[k % 3];
    const plotTop = c.tops[Math.floor(k / 3)];
    addDiv('strip', { left: plotLeft + 'px', top: (plotTop - 20) + 'px', width: c.width + 'px' },
      panelNames[k] + '; weight: ' + c.weights[k]);

    const cv = document.createElement('canvas');
    const w = 45 + c.width + 10, h = 10 + PLOT_H + 40;
    cv.width = w; cv.height = h;
    cv.style.left = (plotLeft - 45) + 'px';
    cv.style.top = (plotTop - 10) + 'px';
    cv.style.width = w + 'px'; cv.style.height = h + 'px';
    document.body.appendChild(cv);

    const ds = [];
    if (p.obs) {
      const obsPts = pts(obsDays, p.obs).concat((p.extra || []).map(([x, y]) => ({ x, y })));
      ds.push({ data: obsPts, showLine: false, pointRadius: 2.4, pointBackgroundColor: '#3d3d3d',
        pointBorderWidth: 0, order: 0, clip: false });
    }
    ds.push({ data: pts(lineDays, p.mid), borderColor: grey, borderWidth: 3.5, pointRadius: 0,
      cubicInterpolationMode: 'monotone', order: 2 });
    ds.push({ data: pts(scenDays, p.sMid), borderColor: teal, borderWidth: 3, pointRadius: 0,
      cubicInterpolationMode: 'monotone', order: 3 });
    ds.push({ data: pts(scenDays, p.sLo), borderColor: 'transparent', borderWidth: 0, pointRadius: 0,
      fill: false, cubicInterpolationMode: 'monotone', order: 5 });
    ds.push({ data: pts(scenDays, p.sHi), borderColor: 'transparent', borderWidth: 0, pointRadius: 0,
      fill: '-1', backgroundColor: 'rgba(102,179,189,0.28)', cubicInterpolationMode: 'monotone', order: 5 });
    ds.push({ data: pts(bandDays, p.lo), borderColor: 'transparent', borderWidth: 0, pointRadius: 0,
      fill: false, cubicInterpolationMode: 'monotone', order: 6 });
    ds.push({ data: pts(bandDays, p.hi), borderColor: 'transparent', borderWidth: 0, pointRadius: 0,
      fill: '-1', backgroundColor: 'rgba(190,190,190,0.45)', cubicInterpolationMode: 'monotone', order: 6 });

    const yt = c.yTicks[k];
    const cutLine = {
      id: 'cutLine',
      beforeDatasetsDraw(chart) {
        const { ctx, chartArea, scales } = chart;
        const x = Math.round(scales.x.getPixelForValue(c.cut)) + 0.5;
        ctx.save();
        ctx.strokeStyle = c.dash;
        ctx.lineWidth = 1;
        ctx.setLineDash([4, 3]);
        ctx.beginPath();
        ctx.moveTo(x, chartArea.top);
        ctx.lineTo(x, chartArea.bottom);
        ctx.stroke();
        ctx.restore();
      }
    };

    new Chart(cv, {
      type: 'line',
      data: { datasets: ds },
      options: {
        responsive: false,
        animation: false,
        events: [],
        layout: { padding: { top: 10, right: 10, left: 0, bottom: 0 } },
        plugins: { legend: { display: false }, tooltip: { enabled: false } },
        scales: {
          x: {
            type: 'linear', min: 3, max: 375,
            afterBuildTicks: s => { s.ticks = monthDays.map(v => ({ value: v })); },
            afterFit: s => { s.height = 40; },
            ticks: { autoSkip: false, minRotation: 45, maxRotation: 45, padding: 5, color: '#4d4d4d',
              font: { size: 11.5 }, callback: v => monthLabels[monthDays.indexOf(v)] },
            grid: { drawOnChartArea: false, drawTicks: true, tickLength: 4, color: '#333' },
            border: { color: '#333', width: 1 }
          },
          y: {
            type: 'linear', min: 0, max: c.yMax[k],
            afterBuildTicks: s => { s.ticks = yt.map(v => ({ value: v })); },
            afterFit: s => { s.width = 45; },
            ticks: { padding: 2, color: '#4d4d4d', font: { size: 11 },
              callback: v => p.dec ? v.toFixed(p.dec) : v.toLocaleString('en-US') },
            grid: { drawOnChartArea: false, drawTicks: true, tickLength: 4, color: '#333' },
            border: { color: '#333', width: 1 }
          }
        }
      },
      plugins: [cutLine]
    });
  });
});
</script>
</body>
</html>
